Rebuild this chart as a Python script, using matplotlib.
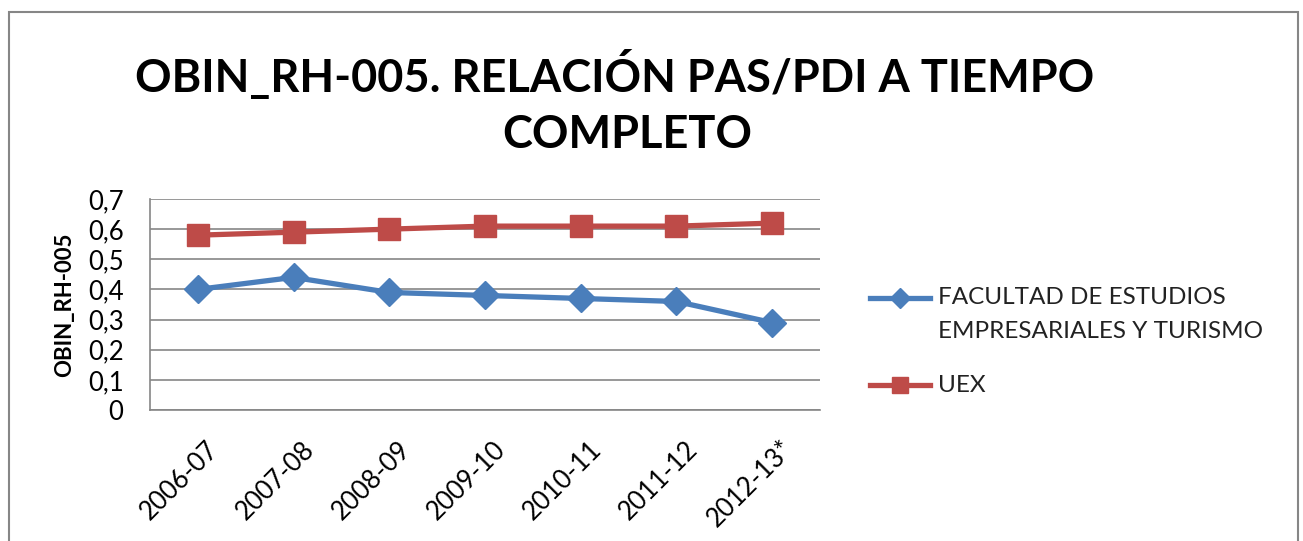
import matplotlib.pyplot as plt
import matplotlib.transforms as mtransforms
from matplotlib.patches import Rectangle
from matplotlib.lines import Line2D

years = ["2006-07", "2007-08", "2008-09", "2009-10", "2010-11", "2011-12", "2012-13*"]
facultad = [0.40, 0.44, 0.39, 0.38, 0.37, 0.36, 0.29]
uex = [0.58, 0.59, 0.60, 0.61, 0.61, 0.61, 0.62]
y_ticks = [0, 0.1, 0.2, 0.3, 0.4, 0.5, 0.6, 0.7]
y_labels = ["0", "0,1", "0,2", "0,3", "0,4", "0,5", "0,6", "0,7"]
series_names = ["FACULTAD DE ESTUDIOS\nEMPRESARIALES Y TURISMO", "UEX"]

plt.rcParams["font.family"] = ["Lato", "DejaVu Sans"]

W, H = 1303, 541
fig = plt.figure(figsize=(W / 100, H / 100), dpi=100)

# outer chart frame
fig.patches.append(Rectangle((9 / W, -0.05), 1289 / W, 1.05 - 12 / H,
                             transform=fig.transFigure, fill=False,
                             edgecolor="#868686", linewidth=1.5))

ax = fig.add_axes([150 / W, 1 - 410 / H, 670 / W, 211 / H])

blue = "#4A7EBB"
red = "#BE4B48"
x = range(len(years))
ax.plot(x, facultad, color=blue, lw=3.8, marker="D", markersize=14, zorder=3)
ax.plot(x, uex, color=red, lw=3.8, marker="s", markersize=16, zorder=3)

ax.set_xlim(-0.5, len(years) - 0.5)
ax.set_ylim(0, 0.7)
ax.set_yticks(y_ticks)
ax.set_yticklabels(y_labels)
ax.set_xticks(list(x))
ax.set_xticklabels(years, rotation=45, ha="right", va="top", rotation_mode="anchor")
ax.tick_params(axis="both", labelsize=18.5, length=0, colors="#000000")
ax.tick_params(axis="x", pad=19)
ax.tick_params(axis="y", pad=19)
shift = mtransforms.ScaledTranslation(8 / 100, 0, fig.dpi_scale_trans)
for lab in ax.get_xticklabels():
    lab.set_transform(lab.get_transform() + shift)
ax.grid(axis="y", color="#868686", lw=1.2)
ax.set_axisbelow(True)
for s in ["top", "right"]:
    ax.spines[s].set_visible(False)
for s in ["left", "bottom"]:
    ax.spines[s].set_color("#868686")
    ax.spines[s].set_linewidth(1.2)

ax.set_ylabel("OBIN_RH-005", fontsize=16, fontweight="bold", labelpad=9)

fig.text(615 / W, 1 - 75 / H, "OBIN_RH-005. RELACIÓN PAS/PDI A TIEMPO",
         ha="center", va="center", fontsize=32.5, fontweight="bold")
fig.text(627 / W, 1 - 135 / H, "COMPLETO",
         ha="center", va="center", fontsize=32.5, fontweight="bold")

# legend drawn by hand so the key sits on the first text line, like Excel
def legend_key(y_px, color, marker, ms):
    fig.add_artist(Line2D([870 / W, 900 / W, 930 / W], [1 - y_px / H] * 3,
                          transform=fig.transFigure, color=color, lw=3.8,
                          marker=marker, markersize=ms, markevery=[1]))

legend_key(298, blue, "D", 10)
fig.text(938 / W, 1 - 314.5 / H, series_names[0], ha="left", va="center",
         fontsize=17.5, color="#222222", linespacing=1.75)
legend_key(385, red, "s", 12)
fig.text(938 / W, 1 - 385 / H, series_names[1], ha="left", va="center",
         fontsize=17.5, color="#222222")

fig.savefig("out.png", dpi=100)
